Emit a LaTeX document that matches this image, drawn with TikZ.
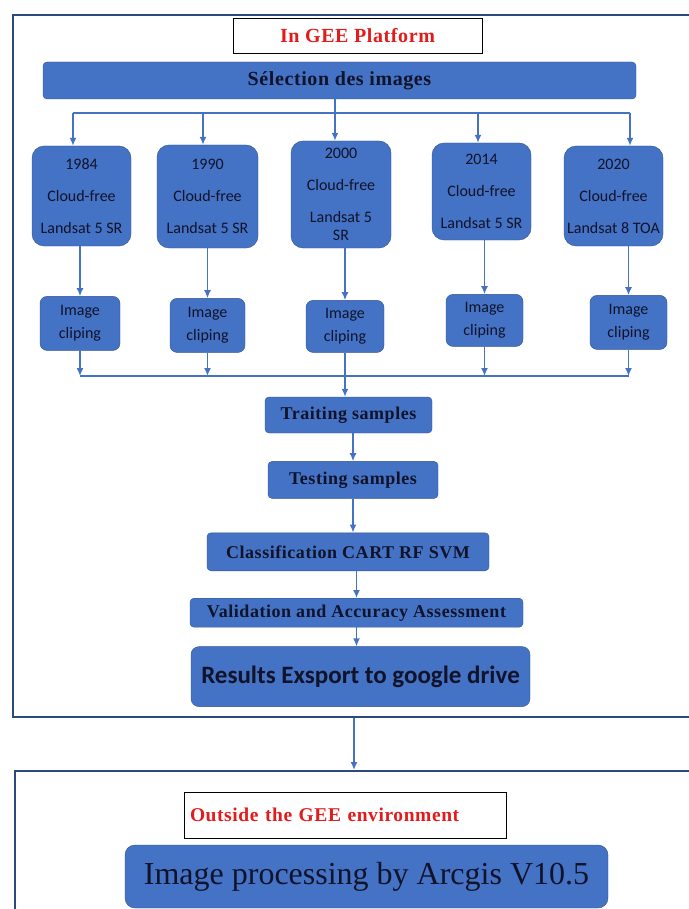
\documentclass[tikz,border=0pt]{standalone}
\usepackage{fontspec}
\setmainfont{Liberation Serif}
\newfontfamily\calfont{Carlito}
\newfontfamily\wideserif[LetterSpace=3]{Liberation Serif}
\usetikzlibrary{arrows,arrows.meta,positioning}
\definecolor{boxblue}{HTML}{4472C4}
\definecolor{boxline}{HTML}{2F528F}
\definecolor{panelcol}{HTML}{2E4A7A}
\definecolor{titlered}{HTML}{E31B1B}
\definecolor{inkdark}{HTML}{10132A}
\begin{document}
\begin{tikzpicture}[
  x=1pt, y=-1pt,
  >={Latex[length=8pt,width=7pt]},
  every node/.style={draw=boxline, fill=boxblue, text=inkdark, inner sep=2pt},
  yearbox/.style={rounded corners=12pt, align=center, font=\calfont\fontsize{16}{32}\selectfont, minimum width=99, minimum height=100},
  clipbox/.style={rounded corners=7pt, align=center, font=\calfont\fontsize{16}{23}\selectfont, minimum width=77, minimum height=54},
  stepbar/.style={rounded corners=4pt, font=\wideserif\bfseries\fontsize{18}{20}\selectfont},
  titlebox/.style={fill=white, draw=black, thin, text=titlered, font=\wideserif\bfseries\fontsize{20}{22}\selectfont},
  panel/.style={fill=none, draw=panelcol, line width=2pt},
  flow/.style={->, draw=boxblue, line width=1.8pt},
  ]
  \useasboundingbox (0,0) rectangle (688,909);
  \node[panel, minimum width=682, minimum height=702] (gee) at (354,366) {};
  \node[panel, minimum width=680, minimum height=160] (outside) at (355,851) {};

  \node[titlebox, minimum width=249, minimum height=35] (geetitle) at (357.5,35.5) {In GEE Platform};
  \node[stepbar, minimum width=593, minimum height=37, font=\wideserif\bfseries\fontsize{20}{22}\selectfont] (sel) at (339.5,80.5) {Sélection des images};

  \node[yearbox] (y1984) at (81.5,196) {1984\\Cloud-free\\Landsat 5 SR};
  \node[yearbox, minimum width=101, minimum height=103] (y1990) at (207.5,196.5) {1990\\Cloud-free\\Landsat 5 SR};
  \node[yearbox, minimum width=100, minimum height=107] (y2000) at (341,194.5) {2000\\Cloud-free\\Landsat 5\\[-14pt]SR};
  \node[yearbox, minimum height=97] (y2014) at (481.5,191.5) {2014\\Cloud-free\\Landsat 5 SR};
  \node[yearbox] (y2020) at (613.5,196) {2020\\Cloud-free\\Landsat 8 TOA};

  \node[clipbox, below=50pt of y1984, minimum width=80, xshift=-1.5pt] (clip1) {Image\\cliping};
  \node[clipbox, below=50pt of y1990, minimum width=75] (clip2) {Image\\cliping};
  \node[clipbox, below=52pt of y2000, minimum width=78, minimum height=52, xshift=4pt] (clip3) {Image\\cliping};
  \node[clipbox, below=54pt of y2014, minimum height=52, xshift=3pt] (clip4) {Image\\cliping};
  \node[clipbox, below=49pt of y2020, xshift=15pt] (clip5) {Image\\cliping};

  \node[stepbar, minimum width=167, minimum height=36] (train) at (348.5,415) {Traiting samples};
  \node[stepbar, below=28pt of train, xshift=4.5pt, minimum width=170, minimum height=37] (test) {Testing samples};
  \node[stepbar, below=34pt of test, xshift=-5pt, minimum width=282, minimum height=38] (cls) {Classification CART RF SVM};
  \node[stepbar, below=27pt of cls, xshift=8.5pt, minimum width=333, minimum height=29] (valid) {Validation and Accuracy Assessment};
  \node[stepbar, below=19pt of valid, xshift=4pt, rounded corners=8pt, minimum width=339, minimum height=60, font=\calfont\bfseries\fontsize{25}{27}\selectfont] (export) {Results Exsport to google drive};

  \node[titlebox, minimum width=322, minimum height=46, text width=310, align=left, font=\wideserif\bfseries\fontsize{19.5}{22}\selectfont] (outtitle) at (345,815) {Outside the GEE environment};
  \node[stepbar, rounded corners=10pt, minimum width=483, minimum height=63, font=\fontsize{32}{34}\selectfont] (arcgis) at (366.5,876.5) {Image processing by Arcgis V10.5};

  \coordinate (f1) at (73,113);
  \coordinate (f2) at (203,113);
  \coordinate (f3) at (335,113);
  \coordinate (f4) at (478,113);
  \coordinate (f5) at (630,113);
  \coordinate (bus) at (346,376);

  \draw[flow] (f3 |- sel.south) -- (f3 |- y2000.north);
  \draw[flow, -] (f1) -- (f5);
  \foreach \f/\y in {f1/y1984, f2/y1990, f4/y2014, f5/y2020}
    \draw[flow] (\f) -- (\f |- \y.north);

  \foreach \y/\c in {y1984/clip1, y1990/clip2, y2000/clip3, y2014/clip4, y2020/clip5}
    \draw[flow] (\c.north |- \y.south) -- (\c.north);

  \foreach \c in {clip1, clip2, clip4, clip5}
    \draw[flow] (\c.south) -- (\c.south |- bus);
  \draw[flow, -] (clip1.south |- bus) -- (clip5.south |- bus);
  \draw[flow] (clip3.south) -- (clip3.south |- train.north);

  \draw[flow] (test.north |- train.south) -- (test.north);
  \draw[flow] (test.south) -- (test.south |- cls.north);
  \draw[flow] (valid.north |- cls.south) -- (valid.north);
  \draw[flow] (valid.south) -- (valid.south |- export.north);
  \draw[flow] (gee.south) -- (gee.south |- outside.north);
\end{tikzpicture}
\end{document}
